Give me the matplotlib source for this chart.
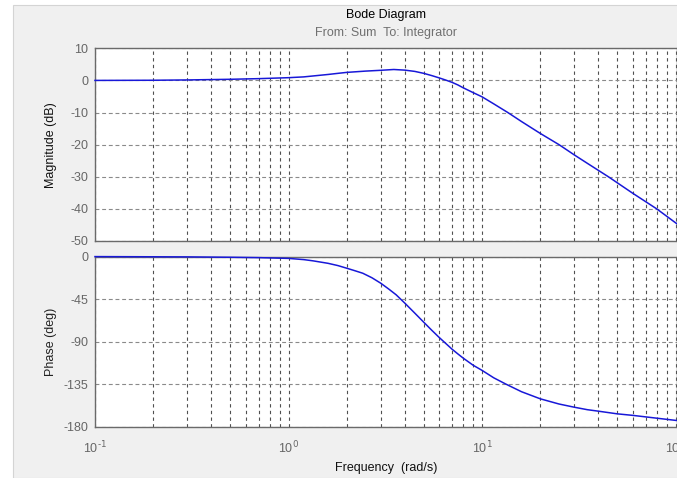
import matplotlib
matplotlib.use("Agg")
import matplotlib.pyplot as plt
import numpy as np
from matplotlib.patches import Rectangle
from matplotlib.ticker import LogLocator, NullFormatter, FixedLocator, FuncFormatter

plt.rcParams['font.family'] = ['Liberation Sans', 'DejaVu Sans']
plt.rcParams['mathtext.default'] = 'regular'
plt.rcParams['axes.unicode_minus'] = False

# values
freq_mag = [0.1, 0.2, 0.3, 0.5, 0.7, 1.0, 1.2, 1.6, 1.8, 2.0, 2.3, 2.5, 3.0, 3.5, 4.0, 4.5,
            5.0, 5.5, 6.0, 6.5, 7.0, 7.5, 8.0, 9.0, 10, 11.5, 13.6, 16, 20, 25, 30, 35, 45,
            60, 80, 102]
mag_db = [0.0, 0.05, 0.15, 0.35, 0.55, 0.85, 1.1, 1.85, 2.2, 2.5, 2.75, 2.9, 3.15, 3.4, 3.2,
          2.8, 2.2, 1.5, 0.8, 0.1, -0.6, -1.4, -2.3, -3.8, -5.1, -7.3, -10.0, -12.8, -16.5,
          -20.0, -23.2, -25.8, -30.0, -35.1, -40.0, -44.7]

freq_ph = [0.1, 0.2, 0.3, 0.5, 0.7, 1.0, 1.2, 1.34, 1.6, 1.8, 2.0, 2.2, 2.42, 2.7, 3.0, 3.3,
           3.6, 4.0, 4.5, 5.0, 5.5, 6.0, 6.5, 7.0, 7.5, 8.0, 9.0, 10, 11.5, 13.3, 16, 20,
           25, 30, 35, 40, 50, 60, 70, 80, 102]
phase_deg = [-0.1, -0.3, -0.4, -0.8, -1.2, -2.0, -3.3, -4.6, -7.2, -9.6, -12.4, -15.0, -17.7,
             -22.5, -28.3, -34.5, -40.5, -49.5, -60.0, -69.5, -78.0, -85.5, -92.0, -98.0,
             -103.0, -107.5, -115.0, -120.4, -128.3, -135.0, -143.0, -150.5, -156.0,
             -159.4, -162.0, -163.6, -166.4, -168.0, -169.6, -171.0, -173.5]

mag_ticks = [-50, -40, -30, -20, -10, 0, 10]
phase_ticks = [-180, -135, -90, -45, 0]


def decade_label(v, pos):
    # MATLAB style 10^n label, with a plain hyphen in the exponent
    return r'$10^{\text{%d}}$' % int(round(np.log10(v)))


W, H = 677, 478
fig = plt.figure(figsize=(W / 100, H / 100), dpi=100)
fig.patch.set_facecolor('white')
fig.add_artist(Rectangle((13 / W, 0), 1, 473 / H, transform=fig.transFigure,
                         facecolor='#f0f0f0', edgecolor='#d4d4d4', lw=0.8, zorder=0))

left = 95 / W
width = 582 / W
ax1 = fig.add_axes([left, 1 - 241 / H, width, (241 - 48.3) / H])
ax2 = fig.add_axes([left, 1 - 426.7 / H, width, (426.7 - 256.5) / H])

xmax = 10 ** (-1 + 582 / 193.5)
line_color = '#1818d8'

for ax in (ax1, ax2):
    ax.set_facecolor('white')
    ax.set_xscale('log')
    ax.set_xlim(0.1, xmax)
    ax.xaxis.set_major_locator(LogLocator(base=10))
    ax.xaxis.set_major_formatter(FuncFormatter(decade_label))
    ax.xaxis.set_minor_locator(LogLocator(base=10, subs=np.arange(2, 10)))
    ax.xaxis.set_minor_formatter(NullFormatter())
    ax.grid(True, which='both', axis='x', color='#505050', linestyle=(0, (3, 3)), lw=0.8)
    ax.grid(True, which='major', axis='y', color='#8a8a8a', linestyle=(0, (3.5, 2.5)), lw=0.8)
    ax.set_axisbelow(True)
    ax.tick_params(which='both', length=0, labelsize=9, colors='#666666')
    ax.tick_params(axis='y', pad=5)
    ax.tick_params(axis='x', pad=9)
    for s in ax.spines.values():
        s.set_color('#6a6a6a')
        s.set_linewidth(1.0)

ax1.plot(freq_mag, mag_db, color=line_color, lw=1.1, clip_on=False, zorder=3)
ax1.set_ylim(-50, 10)
ax1.yaxis.set_major_locator(FixedLocator(mag_ticks))
ax1.tick_params(axis='x', labelbottom=False)
ax1.set_ylabel('Magnitude (dB)', fontsize=9, color='#111111')

ax2.plot(freq_ph, phase_deg, color=line_color, lw=1.1, clip_on=False, zorder=3)
ax2.set_ylim(-180, 0)
ax2.yaxis.set_major_locator(FixedLocator(phase_ticks))
ax2.set_ylabel('Phase (deg)', fontsize=9, color='#222222')

for ax in (ax1, ax2):
    ax.yaxis.set_label_coords(-0.066, 0.5)

fig.text(386 / W, 1 - 15 / H, 'Bode Diagram', ha='center', va='center', fontsize=9, color='black')
fig.text(386 / W, 1 - 33 / H, 'From: Sum  To: Integrator', ha='center', va='center',
         fontsize=9, color='#707070')
fig.text(386 / W, 1 - 468 / H, 'Frequency  (rad/s)', ha='center', va='center',
         fontsize=9, color='#111111')

fig.savefig('out.png', dpi=100, facecolor=fig.get_facecolor())
